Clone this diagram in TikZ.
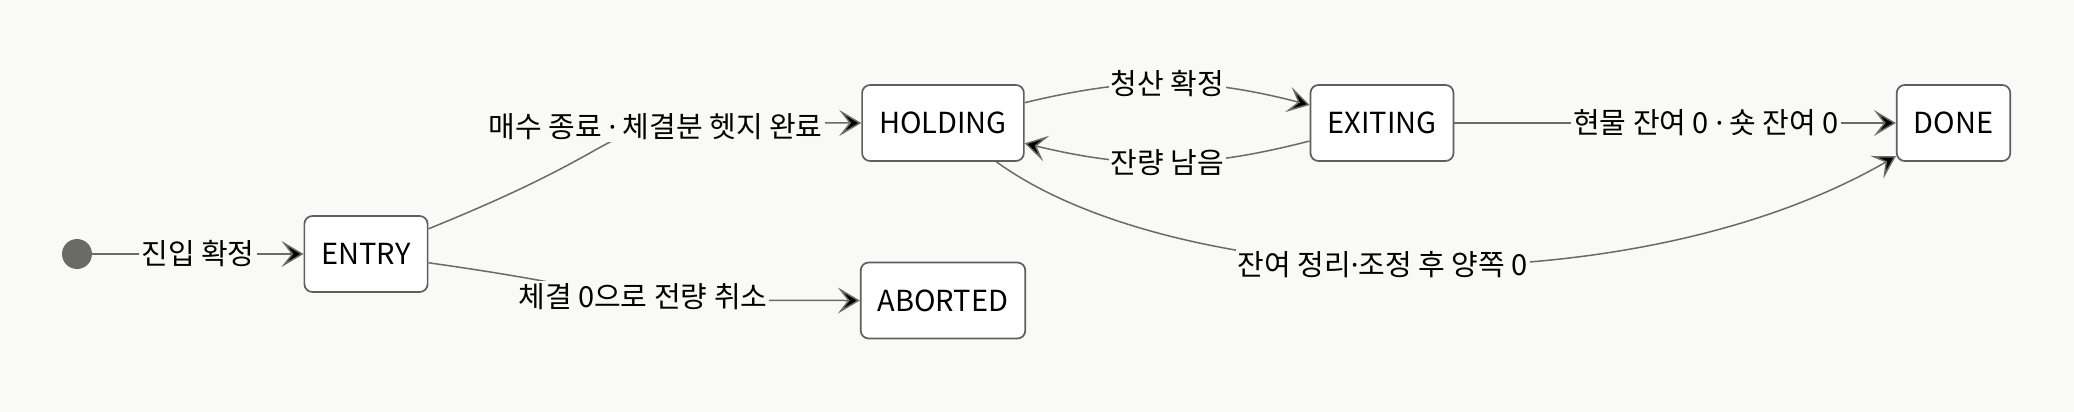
\documentclass[tikz,border=0pt]{standalone}
\usepackage{fontspec}
\setmainfont{Noto Sans CJK KR}
\newfontfamily\pointf{Noto Sans}
\newcommand{\pmid}{{\pointf ·}}
\usetikzlibrary{arrows.meta}
\definecolor{fond}{HTML}{F9F9F7}
\definecolor{trait}{HTML}{6B6B66}
\definecolor{bord}{HTML}{5E5E5E}
\tikzstyle{every picture}=[node distance=2cm,%
	>={Stealth[length=11pt,width=13pt,inset=5pt]}]
\tikzstyle{phase}=[draw=bord, fill=white, line width=0.85pt, rounded corners=4pt,%
	minimum height=38pt, inner xsep=8.5pt, font=\fontsize{14.5}{17}\selectfont]
\tikzstyle{cond}=[fill=fond, inner sep=1pt, font=\fontsize{14.5}{17}\selectfont]
\tikzstyle{fleche}=[->, draw=trait, line width=0.75pt]

\begin{document}
\begin{tikzpicture}
	\useasboundingbox[fill=fond] (-38.5pt,-79pt) rectangle (998.5pt,127pt);
	\node (init) [circle, fill=trait, minimum size=15pt, inner sep=0pt] {};
	\node (entry) [phase, right of=init, node distance=144.5pt] {ENTRY};
	\node (holding) [phase, right of=entry, node distance=288.5pt, yshift=65.5pt] {HOLDING};
	\node (exiting) [phase, right of=holding, node distance=219.5pt] {EXITING};
	\node (done) [phase, right of=exiting, node distance=285.75pt] {DONE};
	\node (aborted) [phase, below of=holding, node distance=88.75pt] {ABORTED};
	\draw[fleche] (init) edge node[cond] {진입 확정} (entry)
		(entry) edge[out=22, in=180, out distance=150pt, in distance=160pt]
			node[cond, pos=0.62] {매수 종료 \pmid{} 체결분 헷지 완료} (holding)
		(entry) edge[out=-8, in=180, out distance=116pt, in distance=152pt]
			node[cond, pos=0.6] {체결 0으로 전량 취소} (aborted)
		(holding) edge[bend left=14] node[cond] {청산 확정} (exiting)
		(exiting) edge[bend left=14] node[cond] {잔량 남음} (holding)
		(exiting) edge node[cond, pos=0.57] {현물 잔여 0 \pmid{} 숏 잔여 0} (done)
		(holding) edge[out=-36, in=210, out distance=110pt, in distance=154pt]
			node[cond, pos=0.47] {잔여 정리\pmid{}조정 후 양쪽 0} (done);
\end{tikzpicture}
\end{document}
